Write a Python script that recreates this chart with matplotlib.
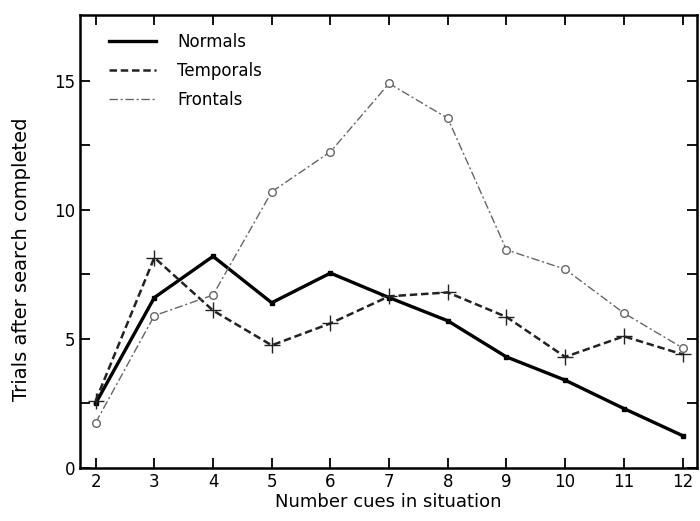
import matplotlib
matplotlib.use('Agg')
import matplotlib.pyplot as plt

# number of cues in situation
cues = [2, 3, 4, 5, 6, 7, 8, 9, 10, 11, 12]

# trials after search completed
normals = [2.5, 6.6, 8.2, 6.4, 7.55, 6.6, 5.7, 4.3, 3.4, 2.3, 1.25]
temporals = [2.6, 8.15, 6.1, 4.75, 5.6, 6.65, 6.8, 5.85, 4.3, 5.1, 4.4]
frontals = [1.75, 5.9, 6.7, 10.7, 12.25, 14.9, 13.55, 8.45, 7.7, 6.0, 4.65]

plt.rcParams['font.family'] = ['DejaVu Sans']

fig = plt.figure(figsize=(7, 5.21), dpi=100)
ax = fig.add_axes([0.114, 0.102, 0.882, 0.869])

ax.plot(cues, normals, '-', color='black', lw=2.4, marker='s', ms=3.5,
        label='Normals')
ax.plot(cues, temporals, color='#222222', lw=1.8, dashes=(3, 1.5),
        marker='+', ms=11, mew=1.0, label='Temporals')
ax.plot(cues, frontals, color='#666666', lw=1.0, dashes=(6, 2, 1.5, 2),
        marker='o', ms=5.5, mfc='white', mew=1.0, label='Frontals')

ax.set_xlim(1.73, 12.25)
ax.set_ylim(0, 17.55)
ax.set_xticks(cues)
ax.set_yticks([0, 5, 10, 15])
ax.set_yticks([2.5, 7.5, 12.5], minor=True)
ax.tick_params(which='both', direction='in', top=True, right=True,
               labelsize=12, length=7, width=1.3)
ax.tick_params(which='minor', labelleft=False)
for s in ax.spines.values():
    s.set_linewidth(1.8)

ax.set_xlabel('Number cues in situation', fontsize=13, labelpad=2)
ax.set_ylabel('Trials after search completed', fontsize=14)
ax.yaxis.set_label_coords(-0.079, 0.46)

leg = ax.legend(loc='upper left', bbox_to_anchor=(0.048, 0.96),
                frameon=False, fontsize=12, handlelength=2.8,
                handletextpad=1.25, borderaxespad=0, borderpad=0,
                labelspacing=0.65)
for line in leg.get_lines():
    line.set_marker('')

fig.savefig('out.png', dpi=100)
